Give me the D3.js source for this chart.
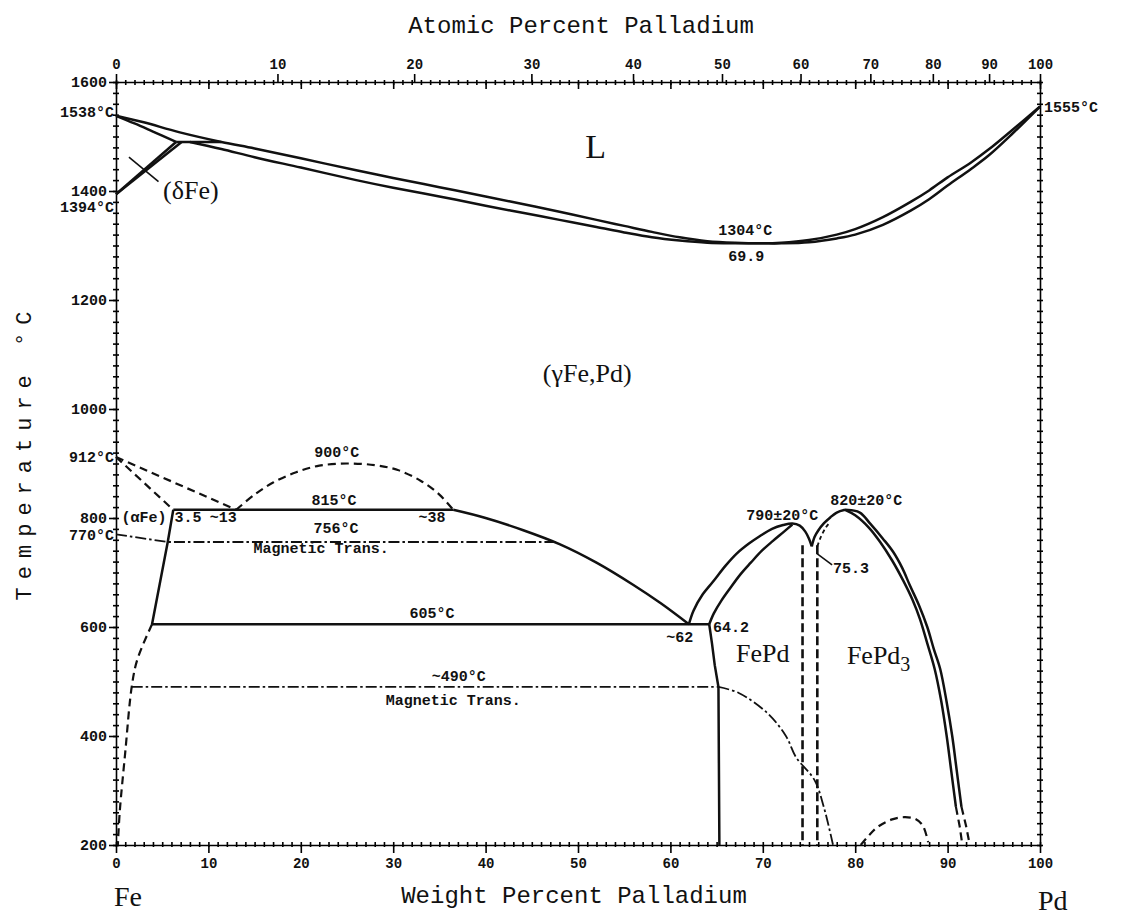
<!DOCTYPE html>
<html>
<head>
<meta charset="utf-8">
<script src="https://cdn.jsdelivr.net/npm/d3@7"></script>
<style>
  body { margin: 0; background: #fff; }
  text { fill: #111; }
  .tick-lab { font: bold 15px "Liberation Mono", monospace; }
  .tick-sm { font: bold 14px "Liberation Mono", monospace; }
  .num { font: bold 15px "Liberation Mono", monospace; }
  .phase { font: 26px "Liberation Serif", serif; }
  .big { font: 34px "Liberation Serif", serif; }
  .title { font: 24px "Liberation Mono", monospace; }
  .elem { font: 28px "Liberation Serif", serif; }
</style>
</head>
<body>
<script>
const width = 1122, height = 919;

// tick values
const wtTicks = [0, 10, 20, 30, 40, 50, 60, 70, 80, 90, 100];
const atTicks = [0, 10, 20, 30, 40, 50, 60, 70, 80, 90, 100];
const tempTicks = [200, 400, 600, 800, 1000, 1200, 1400, 1600];

// phase boundaries, [weight % Pd, temperature °C]
const liquidus = [[0,1538],[3,1526],[6.8,1508],[11.4,1490],[15,1478],[20,1460],[26,1438],[30,1424],[35,1407],[40,1390],
  [44,1376],[48,1362],[52,1347],[55,1336],[58,1325],[61,1315],[64,1308],[67,1305],[69.9,1304],[72,1305],[75,1310],
  [78,1320],[80,1330],[83,1352],[86,1380],[88,1401],[90,1425],[92.5,1452],[94.5,1477],[97,1512],[100,1555]];
const solidus = [[8,1490],[11.4,1477],[15,1462],[20,1443],[26,1420],[30,1406],[35,1390],[40,1373],[44,1360],[48,1347],
  [52,1334],[55,1324],[58,1315],[61,1309],[64,1305],[67,1304],[69.9,1304],[72,1304],[75,1306],[78,1313],[80,1320],
  [83,1338],[86,1364],[88,1385],[90,1410],[92.5,1440],[94.5,1466],[97,1505],[100,1555]];
const deltaSolidus = [[0,1538],[2,1524],[4,1509],[6.5,1490]];
const peritectic = [[6.5,1490],[11.4,1490]];
const deltaGammaA = [[0,1394],[6.5,1490]];
const deltaGammaB = [[0,1394],[7.1,1490]];
const deltaLeader = [[1.4,1462],[4.6,1417]];

const alphaDashA = [[0,912],[13,815]];
const alphaDashB = [[0,912],[6.2,815]];
const gapDome = [[13,815],[15,843],[17,865],[19.5,884],[22,896],[25,900],[28,897],[30.5,888],[33,868],[35,843],[36.5,815]];
const mono815 = [[6.2,815],[36.5,815]];
const alphaSolvus = [[6.2,815],[5.6,756],[3.9,605]];
const alphaSolvusLow = [[3.9,605],[2.3,540],[1.7,490],[1.0,370],[0.4,260],[0.2,200]];
const gammaSolvus = [[36.5,815],[40,800],[44,778],[48,752],[52,718],[56,677],[59,643],[62,605]];
const eut605 = [[3.9,605],[64.2,605]];
const gammaFePd = [[64.2,605],[64.5,570],[64.8,530],[65.2,490],[65.3,200]];

const fepdOuter = [[62,605],[62.5,630],[63.5,660],[64.6,683],[66,713],[67.2,735],[68.5,753],[69.7,767],[71,780],[72.2,787],
  [73.2,790],[74,786],[74.6,775],[75,762],[75.3,748]];
const fepdInner = [[64.2,605],[64.7,625],[65.5,648],[66.5,672],[67.6,697],[68.7,718],[69.9,740],[71.1,758],[72.3,775],[73.2,788]];
const fepdDashA = [[74.3,750],[74.3,200]];
const fepdDashB = [[75.9,750],[75.9,200]];
const leader753 = [[75.9,734],[77.5,714]];

const fepd3Left = [[75.3,748],[75.6,765],[76,777],[76.6,790],[77.3,801],[78,810],[78.9,815]];
const fepd3LeftDash = [[75.9,748],[76.3,766],[76.8,782],[77.3,793]];
const fepd3RightA = [[78.9,815],[80,805],[81.5,782],[82.7,756],[84,722],[85.2,685],[86.2,650],[87,615],[87.8,570],
  [88.6,523],[89.3,465],[89.9,400],[90.4,335],[90.9,270]];
const fepd3RightB = [[78.9,815],[80.5,810],[81.6,790],[83,762],[84.1,738],[85.1,708],[85.9,677],[86.9,640],[87.8,600],
  [88.5,560],[89.2,523],[89.9,462],[90.5,400],[91,335],[91.5,270]];
const fepd3EndA = [[90.9,270],[91.3,235],[91.6,200]];
const fepd3EndB = [[91.5,270],[92,235],[92.4,200]];
const lowDome = [[80.6,200],[81.5,218],[82.5,234],[84,247],[85.3,251],[86.5,248],[87.3,236],[87.9,205]];

const mag770 = [[0,770],[5.6,756],[47.6,756]];
const mag490 = [[1.7,490],[65.2,490]];
const mag490Curve = [[65.2,490],[67.4,479],[70.5,442],[72.5,400],[73.6,361],[75.6,319],[76.6,270],[77.6,200]];

const x = d3.scaleLinear().domain([0, 100]).range([116, 1040]);
const y = d3.scaleLinear().domain([200, 1600]).range([845, 82]);

// atomic % -> weight % for the top axis
const FE = 55.845, PD = 106.42;
const atToWt = a => 100 * a * PD / (a * PD + (100 - a) * FE);

const svg = d3.select('body').append('svg')
  .attr('width', width).attr('height', height)
  .style('background', '#fff');

const axisG = (t) => svg.append('g').attr('transform', t)
  .attr('font-family', null).attr('font-size', null)
  .style('stroke-width', 1.6);
const noDomain = g => g.select('.domain').remove();
const wtMinor = d3.range(0, 101, 1);
const tMinor = d3.range(200, 1601, 20);

// bottom
axisG(`translate(0,${y(200)})`)
  .call(d3.axisBottom(x).tickValues(wtTicks).tickFormat(d3.format('d')).tickSize(8).tickSizeOuter(0).tickPadding(5))
  .call(g => g.selectAll('text').attr('class', 'tick-sm'));
axisG(`translate(0,${y(200)})`).call(d3.axisTop(x).tickValues(wtMinor).tickSize(3).tickFormat('')).call(noDomain);
axisG(`translate(0,${y(200)})`).call(d3.axisBottom(x).tickValues(wtMinor).tickSize(2).tickFormat('')).call(noDomain);

// top: atomic percent outward, weight percent inward
axisG(`translate(0,${y(1600)})`)
  .call(d3.axisTop(x).tickValues(atTicks.map(atToWt)).tickFormat((d, i) => atTicks[i])
    .tickSize(8).tickSizeOuter(0).tickPadding(5))
  .call(g => g.selectAll('text').attr('class', 'tick-sm'));
axisG(`translate(0,${y(1600)})`).call(d3.axisBottom(x).tickValues(wtTicks).tickSize(7).tickFormat('')).call(noDomain);
axisG(`translate(0,${y(1600)})`).call(d3.axisBottom(x).tickValues(wtMinor).tickSize(3).tickFormat('')).call(noDomain);
axisG(`translate(0,${y(1600)})`).call(d3.axisTop(x).tickValues(wtMinor).tickSize(2).tickFormat('')).call(noDomain);

// left
axisG(`translate(${x(0)},0)`)
  .call(d3.axisLeft(y).tickValues(tempTicks).tickFormat(d3.format('d')).tickSize(7).tickSizeOuter(0).tickPadding(2))
  .call(g => g.selectAll('text').attr('class', 'tick-lab'));
axisG(`translate(${x(0)},0)`).call(d3.axisLeft(y).tickValues(tMinor).tickSize(3).tickFormat('')).call(noDomain);
axisG(`translate(${x(0)},0)`).call(d3.axisRight(y).tickValues(tMinor).tickSize(3).tickFormat('')).call(noDomain);

// right
axisG(`translate(${x(100)},0)`).call(d3.axisRight(y).tickValues([]).tickSizeOuter(0));
axisG(`translate(${x(100)},0)`).call(d3.axisRight(y).tickValues(tMinor).tickSize(3).tickFormat('')).call(noDomain);
axisG(`translate(${x(100)},0)`).call(d3.axisLeft(y).tickValues(tMinor).tickSize(3).tickFormat('')).call(noDomain);

// boundaries
const smooth = d3.line().x(d => x(d[0])).y(d => y(d[1])).curve(d3.curveCatmullRom.alpha(0.5));
const straight = d3.line().x(d => x(d[0])).y(d => y(d[1]));

const SOLID = {w: 2.5, dash: null};
const THIN = {w: 1.6, dash: null};
const DASH = {w: 2.2, dash: '8,5'};
const VDASH = {w: 2.6, dash: '9,4'};
const SDASH = {w: 1.8, dash: '4,3'};
const DASHDOT = {w: 1.8, dash: '11,3,2.5,3'};

const paths = [
  [liquidus, SOLID, smooth], [solidus, SOLID, smooth], [deltaSolidus, SOLID, smooth],
  [peritectic, SOLID, straight], [deltaGammaA, SOLID, straight], [deltaGammaB, SOLID, straight],
  [deltaLeader, THIN, straight],
  [alphaDashA, DASH, straight], [alphaDashB, DASH, straight], [gapDome, DASH, smooth],
  [mono815, SOLID, straight], [alphaSolvus, SOLID, straight], [alphaSolvusLow, DASH, smooth],
  [gammaSolvus, SOLID, smooth], [eut605, SOLID, straight], [gammaFePd, SOLID, straight],
  [fepdOuter, SOLID, smooth], [fepdInner, SOLID, smooth],
  [fepdDashA, VDASH, straight], [fepdDashB, VDASH, straight], [leader753, THIN, straight],
  [fepd3Left, SOLID, smooth], [fepd3LeftDash, SDASH, smooth],
  [fepd3RightA, SOLID, smooth], [fepd3RightB, SOLID, smooth],
  [fepd3EndA, DASH, straight], [fepd3EndB, DASH, straight], [lowDome, DASH, smooth],
  [mag770, DASHDOT, straight], [mag490, DASHDOT, straight], [mag490Curve, DASHDOT, smooth]
];

svg.append('g').attr('fill', 'none').attr('stroke', '#111').attr('stroke-linejoin', 'round')
  .selectAll('path').data(paths).join('path')
  .attr('d', d => d[2](d[0]))
  .attr('stroke-width', d => d[1].w)
  .attr('stroke-dasharray', d => d[1].dash);

// annotations
const notes = [
  ['L', 51.9, 1483, 'big', 'middle'],
  ['1304°C', 68.1, 1328, 'num', 'middle'],
  ['69.9', 68.2, 1281, 'num', 'middle'],
  ['(δFe)', 5.1, 1402, 'phase', 'start'],
  ['(γFe,Pd)', 51.0, 1066, 'phase', 'middle'],
  ['900°C', 23.9, 921, 'num', 'middle'],
  ['815°C', 23.6, 833, 'num', 'middle'],
  ['(αFe)', 0.6, 802, 'num', 'start'],
  ['3.5', 7.8, 802, 'num', 'middle'],
  ['~13', 11.6, 802, 'num', 'middle'],
  ['~38', 34.2, 802, 'num', 'middle'],
  ['756°C', 23.8, 782, 'num', 'middle'],
  ['Magnetic Trans.', 22.2, 745, 'num', 'middle'],
  ['605°C', 34.2, 626, 'num', 'middle'],
  ['~62', 61.0, 582, 'num', 'middle'],
  ['64.2', 64.6, 600, 'num', 'start'],
  ['FePd', 70.0, 553, 'phase', 'middle'],
  ['790±20°C', 72.1, 806, 'num', 'middle'],
  ['820±20°C', 81.2, 833, 'num', 'middle'],
  ['75.3', 77.6, 708, 'num', 'start'],
  ['~490°C', 37.1, 510, 'num', 'middle'],
  ['Magnetic Trans.', 36.5, 466, 'num', 'middle']
];
svg.append('g').selectAll('text').data(notes).join('text')
  .attr('class', d => d[3])
  .attr('x', d => x(d[1])).attr('y', d => y(d[2]))
  .attr('dy', '0.35em')
  .attr('text-anchor', d => d[4])
  .text(d => d[0]);

const fepd3 = svg.append('text').attr('class', 'phase')
  .attr('x', x(79.1)).attr('y', y(549)).attr('dy', '0.35em');
fepd3.append('tspan').text('FePd');
fepd3.append('tspan').attr('dy', 7).style('font-size', '20px').text('3');

// point temperatures at the pure elements
const sideNotes = [['1538°C', 0, 1538, -4], ['1394°C', 0, 1394, 12], ['912°C', 0, 912, 0], ['770°C', 0, 770, 0]];
svg.append('g').selectAll('text').data(sideNotes).join('text')
  .attr('class', 'num')
  .attr('x', x(0) - 2).attr('y', d => y(d[2]) + d[3])
  .attr('dy', '0.35em').attr('text-anchor', 'end')
  .text(d => d[0]);
svg.append('text').attr('class', 'num')
  .attr('x', x(100) + 4).attr('y', y(1555)).attr('dy', '0.35em')
  .text('1555°C');

// titles
svg.append('text').attr('class', 'title').attr('x', 581).attr('y', 33)
  .attr('text-anchor', 'middle').text('Atomic Percent Palladium');
svg.append('text').attr('class', 'title').attr('x', 574).attr('y', 903)
  .attr('text-anchor', 'middle').text('Weight Percent Palladium');
svg.append('text').attr('class', 'title')
  .attr('transform', 'translate(31,452) rotate(-90)')
  .attr('text-anchor', 'middle').style('font-size', '22px').style('letter-spacing', '8px')
  .text('Temperature °C');
svg.append('text').attr('class', 'elem').attr('x', x(0) - 2).attr('y', 906).text('Fe');
svg.append('text').attr('class', 'elem').attr('x', x(100) - 2).attr('y', 910).text('Pd');
</script>
</body>
</html>
